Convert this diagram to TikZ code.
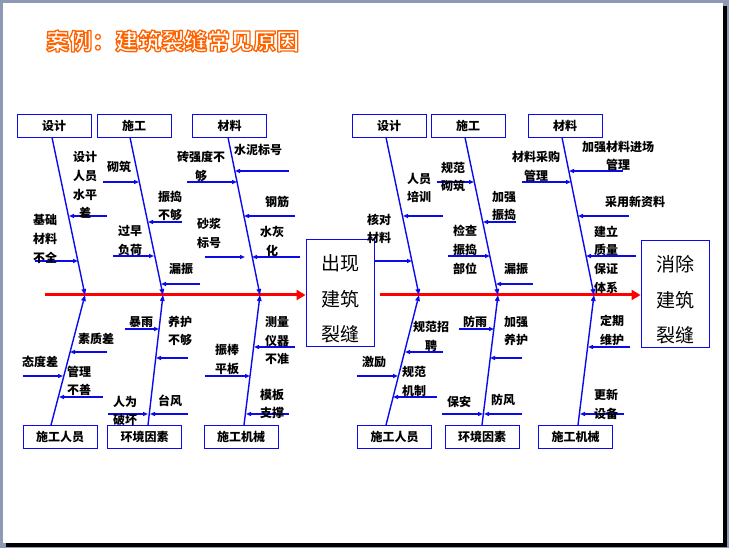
\documentclass[tikz,border=0pt]{standalone}
\usepackage{fontspec}
\setmainfont{Liberation Serif}
\newfontfamily\cjk{Noto Sans CJK SC}
\usetikzlibrary{arrows.meta,calc}
\definecolor{fbblue}{RGB}{10,10,235}
\definecolor{framegray}{RGB}{141,153,181}
\definecolor{titleorange}{RGB}{255,100,0}
\newcommand{\myoutlined}[1]{{\color{white}\special{pdf:literal direct 1 0.39 0 RG 1.3 w 1 j 2 Tr}#1\special{pdf:literal direct 0 Tr 0.4 w 0 j}}}
\tikzset{
  cat/.style={draw=fbblue, line width=0.9pt, minimum width=74pt, minimum height=23pt, inner sep=0pt, font=\cjk\bfseries\fontsize{12}{14}\selectfont},
  resbox/.style={draw=fbblue, line width=0.9pt, minimum width=68pt, minimum height=107pt, inner sep=0pt},
  restext/.style={align=center, inner sep=0pt, font=\cjk\fontsize{19}{35.5}\selectfont},
  bone/.style={draw=fbblue, line width=1.4pt, -{Triangle[length=6pt,width=4.5pt]}},
  sub/.style={draw=fbblue, line width=1.2pt, -{Triangle[length=5pt,width=4pt]}},
  lab/.style={font=\cjk\bfseries\fontsize{12}{18.7}\selectfont, align=center, inner sep=0pt},
  spine/.style={draw=red, line width=3pt, -{Triangle[length=9pt,width=10pt]}},
  ttl/.style={font=\cjk\bfseries\fontsize{23}{26}\selectfont, inner sep=0pt, anchor=west}
}
\begin{document}
\begin{tikzpicture}[x=1pt,y=-1pt]
\useasboundingbox (0,0) rectangle (729,548);
% frame
\fill[framegray] (0,0) rectangle (729,548);
\fill[black] (6,6) rectangle (727,547);
\fill[white] (3,3) rectangle (723,543);
% title
\node[ttl] (title) at (46,41) {\myoutlined{案例：建筑裂缝常见原因}};

% ================= LEFT FISHBONE =================
\node[cat] (Lsj) at (54,125.5) {设计};
\node[cat] (Lsg) at (134,125.5) {施工};
\node[cat] (Lcl) at (229.5,125.5) {材料};
\node[cat] (Lry) at (60,437) {施工人员};
\node[cat] (Lhj) at (144.5,437) {环境因素};
\node[cat] (Ljx) at (241,437) {施工机械};
\node[resbox] (Lres) at (340,292.5) {};
\node[restext] (Lrestext) at (340,299) {出现\\建筑\\裂缝};
\coordinate (Ls0) at (45,295);
\coordinate (L1) at (85,295);
\coordinate (L2) at (163,295);
\coordinate (L3) at (260,295);
\draw[spine] (Ls0) -- (Lres.west |- Ls0);
\draw[bone] ($(Lsj.south)+(-2,0)$) -- (L1);
\draw[bone] ($(Lsg.south)+(-4,0)$) -- (L2);
\draw[bone] ($(Lcl.south)+(-1.5,0)$) -- (L3);
\draw[bone] ($(Lry.north)+(-9,0)$) -- (L1);
\draw[bone] ($(Lhj.north)+(3.5,0)$) -- (L2);
\draw[bone] ($(Ljx.north)+(3,0)$) -- (L3);
% sub arrows left top
\draw[sub] (107,216) -- (69,216);
\draw[sub] (35,261) -- (78,261);
\draw[sub] (103,182) -- (139,182);
\draw[sub] (182,222) -- (148,222);
\draw[sub] (113,256) -- (154,256);
\draw[sub] (200,284) -- (161,284);
\draw[sub] (187,182) -- (237,182);
\draw[sub] (289,171) -- (235,171);
\draw[sub] (295,216) -- (244,216);
\draw[sub] (205,257) -- (245,257);
\draw[sub] (300,257) -- (252,257);
% sub arrows left bottom
\draw[sub] (107,352) -- (70,352);
\draw[sub] (23,376) -- (63,376);
\draw[sub] (103,397) -- (59,397);
\draw[sub] (125,329) -- (159,329);
\draw[sub] (188,358) -- (156,358);
\draw[sub] (108,414) -- (148,414);
\draw[sub] (188,414) -- (150,414);
\draw[sub] (295,347) -- (254,347);
\draw[sub] (205,376) -- (250,376);
\draw[sub] (289,414) -- (246,414);
% labels left
\node[lab] (l1) at (85,185) {设计\\人员\\水平\\差};
\node[lab] (l2) at (45,239) {基础\\材料\\不全};
\node[lab] (l3) at (119,167) {砌筑};
\node[lab] (l4) at (170,206) {振捣\\不够};
\node[lab] (l5) at (130,240.5) {过早\\负荷};
\node[lab] (l6) at (181,269) {漏振};
\node[lab] (l7) at (201,166.5) {砖强度不\\够};
\node[lab] (l8) at (258,150) {水泥标号};
\node[lab] (l9) at (277,202) {钢筋};
\node[lab] (l10) at (209,233.5) {砂浆\\标号};
\node[lab] (l11) at (272,241.5) {水灰\\化};
\node[lab] (l12) at (96,339) {素质差};
\node[lab] (l13) at (40,362) {态度差};
\node[lab] (l14) at (79,381) {管理\\不善};
\node[lab] (l15) at (141,322) {暴雨};
\node[lab] (l16) at (180,331) {养护\\不够};
\node[lab] (l17) at (125,411) {人为\\破坏};
\node[lab] (l18) at (170,401) {台风};
\node[lab] (l19) at (277,340.5) {测量\\仪器\\不准};
\node[lab] (l20) at (227,359.5) {振棒\\平板};
\node[lab] (l21) at (272,404) {模板\\支撑};

% ================= RIGHT FISHBONE =================
\node[cat] (Rsj) at (389,125.5) {设计};
\node[cat] (Rsg) at (468,125.5) {施工};
\node[cat] (Rcl) at (565,125.5) {材料};
\node[cat] (Rry) at (394.5,437) {施工人员};
\node[cat] (Rhj) at (482,437) {环境因素};
\node[cat] (Rjx) at (575.5,437) {施工机械};
\node[resbox] (Rres) at (675,293.5) {};
\node[restext] (Rrestext) at (675,300) {消除\\建筑\\裂缝};
\coordinate (Rs0) at (380,295);
\coordinate (R1) at (419,295);
\coordinate (R2) at (498,295);
\coordinate (R3) at (594,295);
\draw[spine] (Rs0) -- (Rres.west |- Rs0);
\draw[bone] ($(Rsj.south)+(-3,0)$) -- (R1);
\draw[bone] ($(Rsg.south)+(-3,0)$) -- (R2);
\draw[bone] ($(Rcl.south)+(-3,0)$) -- (R3);
\draw[bone] ($(Rry.north)+(-8.5,0)$) -- (R1);
\draw[bone] ($(Rhj.north)+(0,0)$) -- (R2);
\draw[bone] ($(Rjx.north)+(2.5,0)$) -- (R3);
% sub arrows right top
\draw[sub] (443,216) -- (403,216);
\draw[sub] (Lres.east |- 0,261) -- (412,261);
\draw[sub] (437,182) -- (474,182);
\draw[sub] (516,222) -- (483,222);
\draw[sub] (448,256) -- (490,256);
\draw[sub] (533,284) -- (496,284);
\draw[sub] (522,182) -- (571,182);
\draw[sub] (623,171) -- (569,171);
\draw[sub] (629,216) -- (578,216);
\draw[sub] (636,256) -- (586,256);
% sub arrows right bottom
\draw[sub] (443,352) -- (405,352);
\draw[sub] (357,376) -- (398,376);
\draw[sub] (437,397) -- (393,397);
\draw[sub] (459,329) -- (494,329);
\draw[sub] (522,358) -- (490,358);
\draw[sub] (442,414) -- (483,414);
\draw[sub] (522,414) -- (484,414);
\draw[sub] (630,347) -- (588,347);
\draw[sub] (624,414) -- (580,414);
% labels right
\node[lab] (r1) at (419,188) {人员\\培训};
\node[lab] (r2) at (379,229) {核对\\材料};
\node[lab] (r3) at (453,177) {规范\\砌筑};
\node[lab] (r4) at (504,206) {加强\\振捣};
\node[lab] (r5) at (465,250) {检查\\振捣\\部位};
\node[lab] (r6) at (516,269) {漏振};
\node[lab] (r7) at (536,166.5) {材料采购\\管理};
\node[lab] (r8) at (618,156) {加强材料进场\\管理};
\node[lab] (r9) at (635,202) {采用新资料};
\node[lab] (r10) at (606,259.5) {建立\\质量\\保证\\体系};
\node[lab] (r11) at (431,336.5) {规范招\\聘};
\node[lab] (r12) at (374,362) {激励};
\node[lab] (r13) at (414,381.5) {规范\\机制};
\node[lab] (r14) at (475,322) {防雨};
\node[lab] (r15) at (516,331) {加强\\养护};
\node[lab] (r16) at (459,402) {保安};
\node[lab] (r17) at (503,400) {防风};
\node[lab] (r18) at (612,330.5) {定期\\维护};
\node[lab] (r19) at (606,404.5) {更新\\设备};
\end{tikzpicture}
\end{document}
